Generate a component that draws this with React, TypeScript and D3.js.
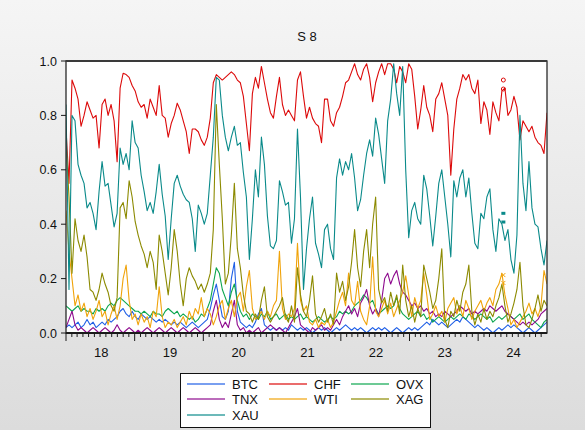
import React from "react";
import * as d3 from "d3";

// Rolling series S 8, sampled roughly twice a month, Jan 2018 – Dec 2024
const TITLE = "S 8";
const SERIES_NAMES = ["BTC", "CHF", "OVX", "TNX", "WTI", "XAG", "XAU"];
const SERIES_COLORS = ["#1f5fe6", "#dc0a0a", "#0ca64e", "#8e0a8e", "#f0a30a", "#8c8a00", "#0a8a8a"];
const YEAR_LABELS = ["18", "19", "20", "21", "22", "23", "24"];
const Y_TICKS = [0, 0.2, 0.4, 0.6, 0.8, 1.0];
const PERIOD_START = "2018-01-01";
const PERIOD_END = "2025-01-01";

const btc = [
  0.02, 0.03, 0.02, 0.03, 0.04, 0.02, 0.03, 0.05, 0.03, 0.04,
  0.02, 0.03, 0.04, 0.03, 0.05, 0.04, 0.05, 0.06, 0.08, 0.09,
  0.07, 0.06, 0.08, 0.06, 0.05, 0.07, 0.06, 0.05, 0.06, 0.05,
  0.04, 0.05, 0.04, 0.05, 0.04, 0.03, 0.04, 0.03, 0.04, 0.03,
  0.02, 0.03, 0.04, 0.03, 0.02, 0.03, 0.04, 0.05, 0.09, 0.14,
  0.18, 0.12, 0.06, 0.05, 0.08, 0.20, 0.26, 0.08, 0.04, 0.03,
  0.02, 0.03, 0.02, 0.04, 0.07, 0.09, 0.03, 0.02, 0.01, 0.02,
  0.01, 0.02, 0.01, 0.02, 0.01, 0.03, 0.02, 0.01, 0.02, 0.01,
  0.02, 0.01, 0.00, 0.01, 0.02, 0.01, 0.02, 0.01, 0.00, 0.01,
  0.02, 0.01, 0.02, 0.03, 0.02, 0.01, 0.02, 0.01, 0.02, 0.01,
  0.00, 0.01, 0.02, 0.01, 0.02, 0.01, 0.02, 0.01, 0.00, 0.01,
  0.02, 0.01, 0.00, 0.01, 0.02, 0.01, 0.02, 0.01, 0.02, 0.03,
  0.04, 0.03, 0.05, 0.04, 0.03, 0.04, 0.03, 0.02, 0.03, 0.04,
  0.05, 0.04, 0.06, 0.05, 0.04, 0.03, 0.02, 0.03, 0.02, 0.01,
  0.02, 0.01, 0.00, 0.01, 0.02, 0.01, 0.02, 0.03, 0.02, 0.03,
  0.02, 0.01, 0.00, 0.01, 0.02, 0.01, 0.00, 0.01, 0.02, 0.03,
  0.04,
];

const chf = [
  0.75, 0.55, 0.93, 0.90, 0.86, 0.76, 0.80, 0.85, 0.82, 0.79,
  0.80, 0.68, 0.84, 0.86, 0.80, 0.84, 0.78, 0.63, 0.90, 0.955,
  0.95, 0.94, 0.91, 0.89, 0.85, 0.83, 0.84, 0.79, 0.86, 0.83,
  0.80, 0.91, 0.80, 0.79, 0.72, 0.77, 0.80, 0.845, 0.82, 0.78,
  0.74, 0.66, 0.75, 0.75, 0.74, 0.71, 0.69, 0.72, 0.79, 0.92,
  0.95, 0.94, 0.93, 0.94, 0.95, 0.96, 0.95, 0.93, 0.92, 0.87,
  0.77, 0.67, 0.88, 0.94, 0.90, 0.98, 0.92, 0.86, 0.81, 0.79,
  0.87, 0.94, 0.84, 0.80, 0.82, 0.80, 0.78, 0.93, 0.96, 0.87,
  0.79, 0.83, 0.79, 0.77, 0.76, 0.70, 0.86, 0.86, 0.78, 0.76,
  0.81, 0.83, 0.87, 0.92, 0.93, 0.96, 0.99, 0.95, 0.93, 0.97,
  0.99, 0.94, 0.85, 0.92, 0.96, 0.99, 0.95, 0.99, 0.99, 0.97,
  0.92, 0.98, 0.96, 0.92, 0.99, 0.97, 0.87, 0.75, 0.82, 0.91,
  0.83, 0.80, 0.74, 0.86, 0.88, 0.92, 0.86, 0.80, 0.58, 0.75,
  0.86, 0.90, 0.95, 0.93, 0.95, 0.90, 0.88, 0.93, 0.77, 0.85,
  0.82, 0.73, 0.85, 0.81, 0.78, 0.89, 0.90, 0.80, 0.82, 0.87,
  0.83, 0.71, 0.78, 0.76, 0.74, 0.76, 0.72, 0.70, 0.69, 0.66,
  0.81,
];

const ovx = [
  0.10, 0.09, 0.08, 0.09, 0.10, 0.08, 0.09, 0.08, 0.08, 0.07,
  0.09, 0.08, 0.09, 0.08, 0.10, 0.11, 0.10, 0.12, 0.13, 0.12,
  0.11, 0.10, 0.09, 0.08, 0.08, 0.07, 0.08, 0.07, 0.06, 0.08,
  0.07, 0.07, 0.06, 0.08, 0.09, 0.08, 0.07, 0.08, 0.06, 0.07,
  0.06, 0.05, 0.06, 0.04, 0.05, 0.07, 0.06, 0.09, 0.12, 0.18,
  0.24, 0.22, 0.16, 0.13, 0.10, 0.15, 0.18, 0.12, 0.08, 0.06,
  0.07, 0.05, 0.07, 0.06, 0.05, 0.07, 0.06, 0.08, 0.05, 0.06,
  0.07, 0.05, 0.06, 0.07, 0.05, 0.06, 0.05, 0.06, 0.07, 0.05,
  0.06, 0.05, 0.04, 0.05, 0.06, 0.05, 0.04, 0.05, 0.06, 0.05,
  0.06, 0.08, 0.07, 0.08, 0.07, 0.08, 0.10, 0.11, 0.12, 0.14,
  0.13, 0.11, 0.12, 0.09, 0.07, 0.08, 0.09, 0.10, 0.09, 0.10,
  0.13, 0.09, 0.07, 0.06, 0.05, 0.06, 0.07, 0.08, 0.06, 0.07,
  0.05, 0.06, 0.04, 0.05, 0.06, 0.05, 0.04, 0.05, 0.06, 0.05,
  0.06, 0.07, 0.06, 0.05, 0.07, 0.06, 0.05, 0.06, 0.07, 0.06,
  0.05, 0.06, 0.04, 0.05, 0.06, 0.05, 0.06, 0.07, 0.06, 0.05,
  0.06, 0.07, 0.05, 0.06, 0.07, 0.05, 0.04, 0.03, 0.02, 0.04,
  0.05,
];

const tnx = [
  0.02, 0.05, 0.08, 0.03, 0.01, 0.02, 0.01, 0.00, 0.01, 0.02,
  0.01, 0.00, 0.01, 0.02, 0.01, 0.00, 0.01, 0.03, 0.01, 0.00,
  0.01, 0.02, 0.01, 0.00, 0.01, 0.00, 0.01, 0.02, 0.01, 0.00,
  0.01, 0.02, 0.01, 0.00, 0.01, 0.02, 0.01, 0.00, 0.01, 0.02,
  0.01, 0.00, 0.01, 0.02, 0.01, 0.00, 0.01, 0.02, 0.03, 0.08,
  0.12, 0.05, 0.02, 0.04, 0.02, 0.07, 0.12, 0.03, 0.01, 0.02,
  0.00, 0.01, 0.00, 0.01, 0.02, 0.00, 0.01, 0.02, 0.03, 0.02,
  0.01, 0.02, 0.01, 0.00, 0.02, 0.04, 0.06, 0.09, 0.03, 0.02,
  0.01, 0.00, 0.02, 0.01, 0.02, 0.03, 0.01, 0.02, 0.01, 0.03,
  0.05, 0.03, 0.06, 0.08, 0.10, 0.07, 0.09, 0.06, 0.11, 0.13,
  0.16, 0.10, 0.07, 0.09, 0.06, 0.12, 0.20, 0.22, 0.18, 0.21,
  0.23, 0.18, 0.15, 0.14, 0.12, 0.10, 0.11, 0.09, 0.10, 0.08,
  0.09, 0.07, 0.08, 0.06, 0.07, 0.06, 0.08, 0.07, 0.06, 0.07,
  0.08, 0.10, 0.09, 0.08, 0.09, 0.07, 0.08, 0.07, 0.08, 0.09,
  0.08, 0.10, 0.09, 0.08, 0.09, 0.10, 0.08, 0.07, 0.06, 0.05,
  0.04, 0.03, 0.04, 0.03, 0.04, 0.03, 0.04, 0.05, 0.07, 0.08,
  0.09,
];

const wti = [
  0.45, 0.30, 0.20, 0.10, 0.14, 0.08, 0.11, 0.06, 0.09, 0.05,
  0.08, 0.12, 0.06, 0.08, 0.03, 0.07, 0.10, 0.05, 0.10, 0.20,
  0.25, 0.12, 0.05, 0.07, 0.03, 0.07, 0.04, 0.06, 0.02, 0.08,
  0.06, 0.17, 0.06, 0.02, 0.04, 0.03, 0.05, 0.02, 0.04, 0.06,
  0.03, 0.08, 0.05, 0.09, 0.07, 0.13, 0.06, 0.09, 0.07, 0.03,
  0.06, 0.10, 0.12, 0.05, 0.09, 0.12, 0.06, 0.13, 0.15, 0.08,
  0.17, 0.23, 0.09, 0.05, 0.06, 0.08, 0.05, 0.08, 0.06, 0.10,
  0.12, 0.30, 0.09, 0.05, 0.07, 0.06, 0.09, 0.33, 0.12, 0.08,
  0.10, 0.04, 0.03, 0.05, 0.02, 0.04, 0.03, 0.05, 0.02, 0.04,
  0.08, 0.12, 0.15, 0.10, 0.22, 0.12, 0.10, 0.19, 0.08, 0.05,
  0.03, 0.10, 0.28, 0.08, 0.06, 0.09, 0.12, 0.07, 0.11, 0.06,
  0.09, 0.12, 0.15, 0.21, 0.14, 0.06, 0.13, 0.09, 0.12, 0.22,
  0.14, 0.05, 0.07, 0.10, 0.06, 0.08, 0.04, 0.09, 0.11, 0.13,
  0.07, 0.10, 0.06, 0.12, 0.09, 0.05, 0.08, 0.10, 0.12, 0.08,
  0.11, 0.13, 0.10, 0.16, 0.18, 0.22, 0.14, 0.09, 0.03, 0.05,
  0.02, 0.04, 0.06, 0.08, 0.11, 0.07, 0.09, 0.06, 0.10, 0.23,
  0.18,
];

const xag = [
  0.70, 0.50, 0.22, 0.42, 0.34, 0.30, 0.36, 0.28, 0.16, 0.15,
  0.12, 0.16, 0.22, 0.18, 0.15, 0.10, 0.08, 0.13, 0.46, 0.48,
  0.42, 0.56, 0.50, 0.41, 0.36, 0.32, 0.29, 0.24, 0.30, 0.26,
  0.16, 0.36, 0.30, 0.22, 0.14, 0.24, 0.38, 0.30, 0.18, 0.10,
  0.20, 0.24, 0.21, 0.19, 0.16, 0.18, 0.15, 0.18, 0.22, 0.38,
  0.84, 0.62, 0.42, 0.18, 0.22, 0.36, 0.55, 0.31, 0.24, 0.14,
  0.08, 0.07, 0.04, 0.07, 0.05, 0.12, 0.17, 0.06, 0.04, 0.06,
  0.08, 0.10, 0.13, 0.06, 0.04, 0.10, 0.04, 0.24, 0.14, 0.08,
  0.06, 0.12, 0.21, 0.07, 0.04, 0.06, 0.09, 0.04, 0.07, 0.03,
  0.22, 0.15, 0.19, 0.12, 0.17, 0.26, 0.38, 0.24, 0.17, 0.30,
  0.38, 0.24, 0.40, 0.50, 0.16, 0.11, 0.13, 0.08, 0.15, 0.10,
  0.14, 0.07, 0.25, 0.12, 0.06, 0.10, 0.04, 0.09, 0.06, 0.25,
  0.20, 0.15, 0.09, 0.12, 0.20, 0.31, 0.05, 0.02, 0.08, 0.06,
  0.12, 0.08, 0.15, 0.18, 0.25, 0.08, 0.03, 0.07, 0.04, 0.09,
  0.05, 0.08, 0.06, 0.10, 0.13, 0.18, 0.10, 0.04, 0.07, 0.11,
  0.16, 0.26, 0.10, 0.03, 0.02, 0.05, 0.09, 0.14, 0.08, 0.12,
  0.10,
];

const xau = [
  0.84, 0.16, 0.80, 0.78, 0.62, 0.58, 0.55, 0.46, 0.48, 0.44,
  0.38, 0.52, 0.63, 0.54, 0.55, 0.47, 0.39, 0.44, 0.68, 0.62,
  0.66, 0.60, 0.78, 0.70, 0.68, 0.58, 0.52, 0.45, 0.48, 0.44,
  0.52, 0.62, 0.51, 0.43, 0.27, 0.42, 0.55, 0.58, 0.54, 0.51,
  0.49, 0.48, 0.42, 0.30, 0.47, 0.44, 0.40, 0.44, 0.58, 0.72,
  0.94, 0.93, 0.80, 0.72, 0.67, 0.72, 0.76, 0.69, 0.70, 0.59,
  0.50, 0.27, 0.42, 0.60, 0.50, 0.72, 0.62, 0.43, 0.32, 0.31,
  0.34, 0.56, 0.52, 0.47, 0.48, 0.33, 0.42, 0.75, 0.50, 0.16,
  0.31, 0.42, 0.50, 0.33, 0.29, 0.24, 0.38, 0.40, 0.31, 0.27,
  0.57, 0.64, 0.58, 0.63, 0.60, 0.66, 0.57, 0.45, 0.49, 0.58,
  0.66, 0.71, 0.65, 0.79, 0.73, 0.64, 0.55, 0.78, 0.86, 0.99,
  0.88, 0.80, 0.98, 0.60, 0.35, 0.45, 0.48, 0.42, 0.40, 0.58,
  0.53, 0.43, 0.32, 0.43, 0.55, 0.60, 0.50, 0.40, 0.28, 0.56,
  0.50, 0.57, 0.60, 0.50, 0.57, 0.44, 0.33, 0.31, 0.44, 0.42,
  0.50, 0.53, 0.38, 0.30, 0.42, 0.40, 0.34, 0.38, 0.27, 0.22,
  0.36, 0.80, 0.55, 0.45, 0.63, 0.46, 0.40, 0.39, 0.31, 0.25,
  0.34,
];

// Isolated observations (no neighbours), drawn as symbols
const ISOLATED_DATE = "2024-05-14";
const chfIsolated = [0.93, 0.897];
const xauIsolated = [0.44, 0.408];
const wtiIsolated = [0.213, 0.184];

const SERIES_VALUES = [btc, chf, ovx, tnx, wti, xag, xau];

const W = 585;
const H = 430;
const PLOT = { left: 66, right: 547, top: 61, bottom: 333 };
const FONT = "'Liberation Sans', Arial, Helvetica, sans-serif";

export default function App() {
  const start = new Date(PERIOD_START + "T00:00:00");
  const end = new Date(PERIOD_END + "T00:00:00");
  const x = d3.scaleTime().domain([start, end]).range([PLOT.left, PLOT.right]);
  const y = d3.scaleLinear().domain([0, 1]).range([PLOT.bottom, PLOT.top]);

  const sampleDate = (i: number, n: number) =>
    new Date(start.getTime() + (i * (end.getTime() - start.getTime())) / (n - 1));

  const line = d3
    .line<[Date, number]>()
    .x((d) => x(d[0]))
    .y((d) => y(d[1]));

  const years = d3.timeYear.range(start, end);
  const months = d3.timeMonth.range(start, end);
  const isoDate = new Date(ISOLATED_DATE + "T00:00:00");
  const fmt = d3.format(".1f");

  // legend grid: three columns, rows top to bottom
  const legendX = [187, 269, 351];
  const legendY = [384, 399, 415];

  return (
    <svg
      width={W}
      height={H}
      style={{ position: "absolute", left: 0, top: 0, display: "block" }}
      fontFamily={FONT}
    >
      <defs>
        <linearGradient id="bg" x1="0" y1="0" x2="0" y2="1">
          <stop offset="0" stopColor="#f5f5f5" />
          <stop offset="1" stopColor="#dcdcdc" />
        </linearGradient>
        <clipPath id="plotClip">
          <rect x={PLOT.left} y={PLOT.top - 1} width={PLOT.right - PLOT.left} height={PLOT.bottom - PLOT.top + 2} />
        </clipPath>
      </defs>
      <rect x={0} y={0} width={W} height={H} fill="url(#bg)" />
      <rect
        x={PLOT.left}
        y={PLOT.top}
        width={PLOT.right - PLOT.left}
        height={PLOT.bottom - PLOT.top}
        fill="#ffffff"
      />

      <text x={307} y={41} textAnchor="middle" fontSize={13} fill="#111">
        {TITLE}
      </text>

      <g clipPath="url(#plotClip)">
        {SERIES_VALUES.map((vals, s) => (
          <path
            key={SERIES_NAMES[s]}
            d={line(vals.map((v, i) => [sampleDate(i, vals.length), v] as [Date, number])) || ""}
            fill="none"
            stroke={SERIES_COLORS[s]}
            strokeWidth={1.1}
            strokeLinejoin="round"
          />
        ))}
        {chfIsolated.map((v, i) => (
          <circle key={"c" + i} cx={x(isoDate)} cy={y(v)} r={2} fill="none" stroke={SERIES_COLORS[1]} strokeWidth={1} />
        ))}
        {xauIsolated.map((v, i) => (
          <rect key={"a" + i} x={x(isoDate) - 2} y={y(v) - 1.5} width={4} height={3} fill={SERIES_COLORS[6]} />
        ))}
        {wtiIsolated.map((v, i) => (
          <g key={"w" + i} stroke={SERIES_COLORS[4]} strokeWidth={1}>
            <line x1={x(isoDate) - 2} y1={y(v) - 2} x2={x(isoDate) + 2} y2={y(v) + 2} />
            <line x1={x(isoDate) - 2} y1={y(v) + 2} x2={x(isoDate) + 2} y2={y(v) - 2} />
          </g>
        ))}
      </g>

      {/* frame */}
      <rect
        x={PLOT.left}
        y={PLOT.top}
        width={PLOT.right - PLOT.left}
        height={PLOT.bottom - PLOT.top}
        fill="none"
        stroke="#2a2a2a"
        strokeWidth={1.3}
      />
      <line x1={PLOT.left} x2={PLOT.right} y1={PLOT.top} y2={PLOT.top} stroke="#3a3a3a" strokeWidth={2} />
      <line x1={PLOT.left} x2={PLOT.right} y1={PLOT.bottom} y2={PLOT.bottom} stroke="#1a1a1a" strokeWidth={2} />

      {/* y axis */}
      {Y_TICKS.map((t) => (
        <g key={t}>
          <line x1={PLOT.left - 5} x2={PLOT.left} y1={y(t)} y2={y(t)} stroke="#1a1a1a" strokeWidth={1} />
          <text x={PLOT.left - 9} y={y(t) + 4.5} textAnchor="end" fontSize={12.5} fill="#111">
            {fmt(t)}
          </text>
        </g>
      ))}

      {/* x axis: monthly minor ticks, yearly major ticks */}
      {months.map((m) => (
        <line
          key={m.getTime()}
          x1={x(m)}
          x2={x(m)}
          y1={PLOT.bottom}
          y2={PLOT.bottom + (m.getMonth() === 0 ? 8 : 4)}
          stroke="#1a1a1a"
          strokeWidth={1}
        />
      ))}
      {years.map((yr, i) => {
        const mid = new Date(yr.getFullYear(), 6, 2);
        return (
          <text key={yr.getFullYear()} x={x(mid) + 1} y={357} textAnchor="middle" fontSize={13} fill="#111">
            {YEAR_LABELS[i]}
          </text>
        );
      })}

      {/* legend */}
      <rect x={180.5} y={373.5} width={250} height={54} fill="#ffffff" stroke="#111" strokeWidth={1} />
      {SERIES_NAMES.map((name, i) => {
        const col = i % 3;
        const row = Math.floor(i / 3);
        const lx = legendX[col];
        const ly = legendY[row];
        return (
          <g key={name}>
            <line x1={lx} x2={lx + 38} y1={ly} y2={ly} stroke={SERIES_COLORS[i]} strokeOpacity={0.6} strokeWidth={2} />
            <text x={lx + 45} y={ly + 4.5} fontSize={13} fill="#111">
              {name}
            </text>
          </g>
        );
      })}
    </svg>
  );
}
